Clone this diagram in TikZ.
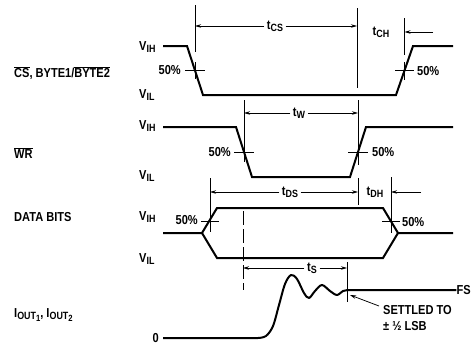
\documentclass[tikz,border=0pt]{standalone}
\usepackage{fontspec}
\setmainfont[FakeStretch=0.85]{Liberation Sans}
\usetikzlibrary{arrows.meta}
\newcommand\sm[1]{\raisebox{-1.8pt}{\fontsize{10.5}{11}\selectfont #1}}
\newcommand\ssm[1]{\raisebox{-1.8pt}{\fontsize{9}{10}\selectfont #1}}
\newcommand\ovl[1]{$\overline{\hbox{#1}}$}
\begin{document}
\begin{tikzpicture}[x=1pt,y=-1pt,
  sig/.style={line width=2pt, line join=miter, line cap=butt},
  dim/.style={line width=0.75pt},
  arr/.style={dim,-{Stealth[length=6pt,width=3.5pt]}},
  lbl/.style={font=\bfseries\fontsize{13}{13}\selectfont, inner sep=0pt},
  dlbl/.style={lbl, inner sep=2.5pt}]
\useasboundingbox (0,0) rectangle (471,348);

% ---------- row labels
\node[lbl,anchor=west] (lcs) at (14,73) {\ovl{CS}, BYTE1/\ovl{BYTE2}};
\node[lbl,anchor=west] (lwr) at (14,153) {\ovl{WR}};
\node[lbl,anchor=west] (ldata) at (14,217) {DATA BITS};
\node[lbl,anchor=west] (lout) at (14,315) {I\sm{OUT\ssm{1}}, I\sm{OUT\ssm{2}}};

\node[lbl,anchor=west] (vih1) at (139,47) {V\sm{IH}};
\node[lbl,anchor=west] (vil1) at (139,95) {V\sm{IL}};
\node[lbl,anchor=west] (vih2) at (139,126) {V\sm{IH}};
\node[lbl,anchor=west] (vil2) at (139,176) {V\sm{IL}};
\node[lbl,anchor=west] (vih3) at (139,217) {V\sm{IH}};
\node[lbl,anchor=west] (vil3) at (139,259) {V\sm{IL}};
\node[lbl,anchor=east] (zero) at (159,338) {0};
\node[lbl,anchor=east] (fs) at (471,290) {FS};

% ---------- CS row
\draw[sig] (163,46) -- (187,46) -- (203,95) -- (396,95) -- (413,46) -- (453,46);
\draw[dim] (185,70.5) -- (205,70.5) (195,62) -- (195,79);
\draw[dim] (395,70.5) -- (414,70.5) (404.5,62) -- (404.5,80);
\draw[dim] (195,5) -- (195,52);
\draw[dim] (357,8) -- (357,88);
\draw[dim] (404.5,18) -- (404.5,55);
\node[lbl,anchor=east] (p1) at (181,70) {50\%};
\node[lbl,anchor=west] (p2) at (417,71) {50\%};
\node[dlbl] (tcs) at (275,26) {t\sm{CS}};
\coordinate (tcsL) at (195,26);
\coordinate (tcsR) at (357,26);
\draw[arr] (tcs) -- (tcsL);
\draw[arr] (tcs) -- (tcsR);
\node[dlbl] (tch) at (381,32) {t\sm{CH}};
\coordinate (tchA) at (433,32);
\coordinate (tchB) at (404.5,32);
\draw[arr] (tchA) -- (tchB);

% ---------- WR row
\draw[sig] (163,127) -- (236,127) -- (252,177) -- (350,177) -- (366,127) -- (453,127);
\draw[dim] (234,152) -- (254,152) (244,100) -- (244,162);
\draw[dim] (348,152) -- (368,152) (358,100) -- (358,165);
\node[lbl,anchor=east] (p3) at (231,152) {50\%};
\node[lbl,anchor=west] (p4) at (372,152) {50\%};
\node[dlbl] (tw) at (299,113) {t\sm{W}};
\coordinate (twL) at (244,113);
\coordinate (twR) at (358,113);
\draw[arr] (tw) -- (twL);
\draw[arr] (tw) -- (twR);

% ---------- DATA row
\draw[sig] (163,233) -- (202,233) -- (217,208) -- (383,208) -- (398,233) -- (453,233);
\draw[sig] (202,233) -- (217,258) -- (383,258) -- (398,233);
\draw[dim] (201,221) -- (219,221) (210,178) -- (210,232);
\draw[dim] (382,221) -- (400,221) (391,177) -- (391,233);
\draw[dim] (358,178) -- (358,205);
\node[lbl,anchor=east] (p5) at (198,220) {50\%};
\node[lbl,anchor=west] (p6) at (402,222) {50\%};
\node[dlbl] (tds) at (290,192) {t\sm{DS}};
\coordinate (tdsL) at (210,192);
\coordinate (tdsR) at (358,192);
\draw[arr] (tds) -- (tdsL);
\draw[arr] (tds) -- (tdsR);
\node[dlbl] (tdh) at (375,192) {t\sm{DH}};
\coordinate (tdhA) at (421,192);
\coordinate (tdhB) at (391,192);
\draw[arr] (tdhA) -- (tdhB);
\draw[dim, dash pattern=on 14pt off 4pt] (243,211) -- (243,290);

% ---------- IOUT row
\draw[sig, line join=round] (163,338) -- (258,338) -- plot[smooth,tension=0.55] coordinates {(258,338) (266,336) (273,326) (279,305) (285,284) (291,275) (297,279) (304,293) (309,298) (315,291) (322,285) (330,291) (337,295) (343,291) (349,290)} -- (fs.west);
\draw[dim] (347,262) -- (347,302);
\node[dlbl] (ts) at (312,268) {t\sm{S}};
\coordinate (tsL) at (243,268);
\coordinate (tsR) at (347,268);
\draw[arr] (ts) -- (tsL);
\draw[arr] (ts) -- (tsR);
\node[lbl,anchor=west] (set1) at (383,310) {SETTLED TO};
\node[lbl,anchor=west] (set2) at (383,326) {± ½ LSB};
\coordinate (setA) at (379,306);
\coordinate (setB) at (350,295);
\draw[arr] (setA) -- (setB);
\end{tikzpicture}
\end{document}
